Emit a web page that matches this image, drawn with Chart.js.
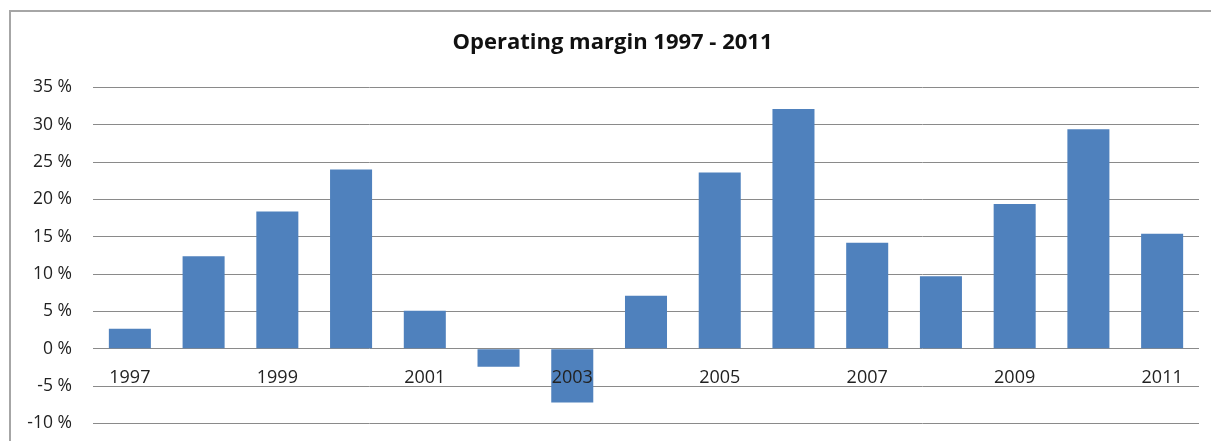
<!DOCTYPE html>
<html>
<head>
<meta charset="utf-8">
<script src="https://cdn.jsdelivr.net/npm/chart.js@4.4.0/dist/chart.umd.min.js"></script>
<style>
  html, body { margin: 0; padding: 0; background: #fff; overflow: hidden; }
  #frame { position: absolute; left: 9px; top: 10px; width: 1220px; height: 450px;
           border-top: 2px solid #a6a6a6; border-left: 2px solid #a6a6a6; }
  #myChart { position: absolute; left: 0; top: 0; }
</style>
</head>
<body>
<div id="frame"></div>
<!-- canvas a bit taller than the window: the y axis keeps a fixed gap under the last tick -->
<canvas id="myChart" width="1211" height="455"></canvas>
<script>
'use strict';

// data
var years = ['1997', '1998', '1999', '2000', '2001', '2002', '2003', '2004',
	'2005', '2006', '2007', '2008', '2009', '2010', '2011'];
var margin = [2.7, 12.4, 18.4, 24.0, 5.1, -2.4, -7.2, 7.1, 23.6, 32.1, 14.2, 9.7, 19.4, 29.4, 15.4];
var shownYears = ['1997', '1999', '2001', '2003', '2005', '2007', '2009', '2011'];
var yTicks = { min: -10, max: 35, step: 5 };

var ctx = document.getElementById('myChart').getContext('2d');
var myBarChart = new Chart(ctx, {
	type: 'bar',
	data: {
		labels: years,
		datasets: [{
			label: 'Operating margin',
			data: margin,
			backgroundColor: '#4F81BD',
			barPercentage: 1,
			categoryPercentage: 0.57
		}]
	},
	options: {
		responsive: false,
		animation: false,
		layout: { padding: { left: 26, right: 12, top: 0, bottom: 18 } },
		plugins: {
			legend: { display: false },
			tooltip: { enabled: false },
			title: {
				display: true,
				text: 'Operating margin 1997 - 2011',
				color: '#111',
				font: { family: 'Open Sans', size: 22, weight: 'bold' },
				padding: { top: 30, bottom: 31 }
			}
		},
		scales: {
			x: {
				position: { y: 0 },
				grid: { display: false, drawTicks: false },
				border: { display: false },
				afterFit: function (scale) { scale.height = 0; },
				ticks: {
					z: 1, // year labels sit on top of the bars
					autoSkip: false,
					maxRotation: 0,
					padding: 18,
					color: '#222',
					font: { family: 'Open Sans', size: 18 },
					callback: function (v, i) {
						return shownYears.indexOf(years[i]) !== -1 ? years[i] : '';
					}
				}
			},
			y: {
				min: yTicks.min,
				max: yTicks.max,
				grid: { color: '#8a8a8a', lineWidth: 1, drawTicks: false },
				border: { display: false },
				afterFit: function (scale) { scale.width = 67; },
				ticks: {
					stepSize: yTicks.step,
					padding: 21,
					color: '#222',
					font: { family: 'Open Sans', size: 17.5 },
					callback: function (v) { return v + ' %'; }
				}
			}
		}
	}
});
</script>
</body>
</html>
